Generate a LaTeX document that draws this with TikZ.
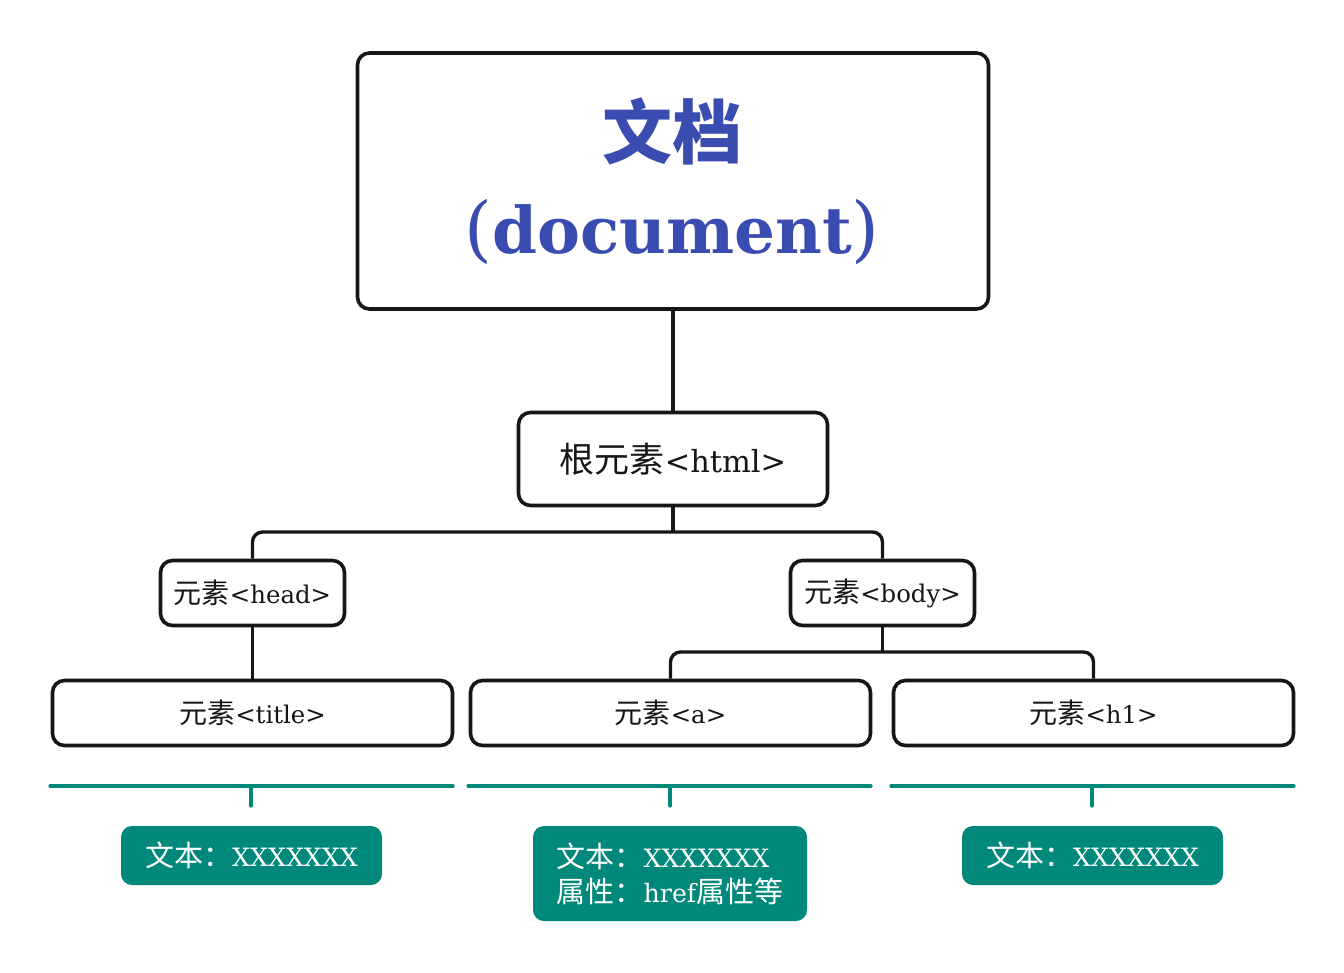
\documentclass[tikz,border=0pt]{standalone}
\usepackage{fontspec}
\setmainfont{DejaVu Serif}[Scale=0.87]
\newfontfamily\cjk{Noto Sans CJK SC}
\definecolor{docblue}{HTML}{3A4CB0}
\definecolor{tealc}{HTML}{00897B}
\definecolor{ink}{HTML}{161616}
\tikzset{
  box/.style={draw=ink, line width=3.6pt, rounded corners=12pt, fill=white, inner sep=0pt, text=ink},
  big/.style={font=\fontsize{35}{40}\selectfont},
  mid/.style={font=\fontsize{28}{32}\selectfont},
  conn/.style={draw=ink, line width=3.4pt, rounded corners=10pt},
  tline/.style={draw=tealc, line width=3.2pt, line cap=round},
  tbox/.style={fill=tealc, rounded corners=11pt, text=white, inner sep=0pt, font=\fontsize{29}{35}\selectfont},
}
\begin{document}
\begin{tikzpicture}[x=1pt,y=-1pt]
\useasboundingbox[fill=white] (0,0) rectangle (1344,972);
% main boxes
\node[box, minimum width=631, minimum height=256] (doc) at (673,181) {};
\node[text=docblue, font=\fontsize{70}{80}\selectfont\cjk\bfseries] (doct1) at (672,131) {文档};
\node[text=docblue, font=\fontsize{74}{80}\selectfont\bfseries, anchor=base] (doct2) at (672,253) {{\fontsize{82}{90}\selectfont\mdseries (}document{\fontsize{82}{90}\selectfont\mdseries )}};
\node[box, big, minimum width=309, minimum height=93] (html) at (673,459) {{\cjk 根元素}<html>};
\node[box, mid, minimum width=184, minimum height=65] (head) at (252.5,593) {{\cjk 元素}<head>};
\node[box, mid, minimum width=184, minimum height=65] (body) at (882.5,593) {{\cjk 元素}<body>};
\node[box, mid, minimum width=400, minimum height=65] (title) at (252.5,713) {{\cjk 元素}<title>};
\node[box, mid, minimum width=400, minimum height=65] (a) at (670.5,713) {{\cjk 元素}<a>};
\node[box, mid, minimum width=400, minimum height=65] (h1) at (1093.5,713) {{\cjk 元素}<h1>};
% connectors
\coordinate (hb) at (673,532);
\coordinate (bb) at (882.5,652);
\draw[conn] (doc.south) -- (html.north);
\draw[conn] (html.south) -- (hb);
\draw[conn] (head.north) |- (hb) -| (body.north);
\draw[conn] (head.south) -- (title.north);
\draw[conn] (body.south) -- (bb);
\draw[conn] (a.north) |- (bb) -| (h1.north);
% teal summary lines
\coordinate (l1a) at (50,786); \coordinate (l1b) at (453,786);
\coordinate (l2a) at (468,786); \coordinate (l2b) at (871,786);
\coordinate (l3a) at (891,786); \coordinate (l3b) at (1294,786);
\coordinate (k1a) at (251,786); \coordinate (k1b) at (251,806);
\coordinate (k2a) at (670,786); \coordinate (k2b) at (670,806);
\coordinate (k3a) at (1092,786); \coordinate (k3b) at (1092,806);
\draw[tline] (l1a) -- (l1b);
\draw[tline] (l2a) -- (l2b);
\draw[tline] (l3a) -- (l3b);
\draw[tline] (k1a) -- (k1b);
\draw[tline] (k2a) -- (k2b);
\draw[tline] (k3a) -- (k3b);
% teal boxes
\node[tbox, minimum width=261, minimum height=59] (t1) at (251.5,855.5) {{\cjk 文本：}XXXXXXX};
\node[tbox, minimum width=274, minimum height=95, align=left] (t2) at (670,873.5) {{\cjk 文本：}XXXXXXX\\{\cjk 属性：}href{\cjk 属性等}};
\node[tbox, minimum width=261, minimum height=59] (t3) at (1092.5,855.5) {{\cjk 文本：}XXXXXXX};
\end{tikzpicture}
\end{document}
